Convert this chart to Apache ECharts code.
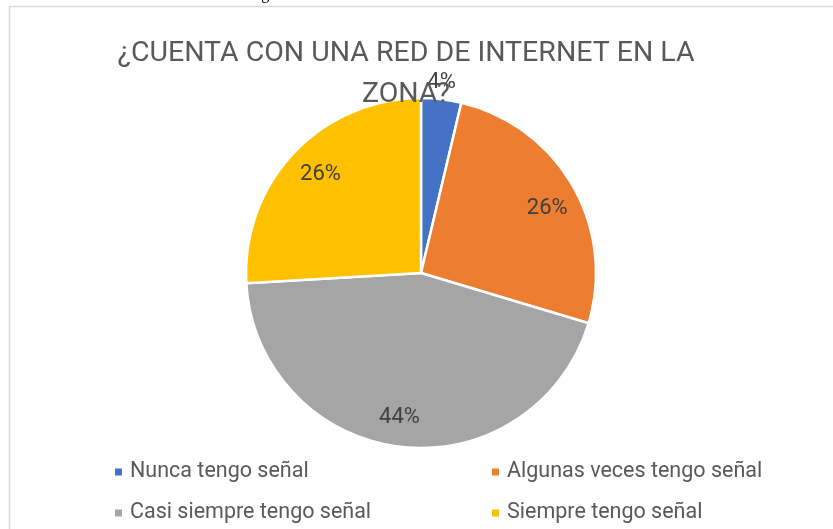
<!DOCTYPE html>
<html>
<head>
<meta charset="utf-8">
<script src="https://cdn.jsdelivr.net/npm/echarts@6/dist/echarts.min.js"></script>
<style>
  html, body { margin: 0; padding: 0; background: #fff; }
  #main { width: 833px; height: 529px; }
</style>
</head>
<body>
<div id="main"></div>
<script>
// respuestas de la encuesta
var categories = ['Nunca tengo señal', 'Algunas veces tengo señal', 'Casi siempre tengo señal', 'Siempre tengo señal'];
var counts = [1, 7, 12, 7];
var colors = ['#4472C4', '#ED7D31', '#A5A5A5', '#FFC000'];

var dom = document.getElementById('main');
var myChart = echarts.init(dom);

var pieData = categories.map(function (name, i) {
    return { name: name, value: counts[i] };
});

// copy for the labels only (transparent ring so the inside labels sit near the rim)
var labelData = categories.map(function (name, i) {
    var item = { name: name, value: counts[i] };
    if (i === 0) {
        item.label = { offset: [-1, -52] };
    }
    return item;
});

var option = {
    color: colors,
    title: {
        text: '¿CUENTA CON UNA RED DE INTERNET EN LA\nZONA?',
        left: 401,
        textAlign: 'center',
        top: 28,
        textStyle: {
            fontFamily: 'Roboto',
            fontWeight: 'normal',
            fontSize: 28.5,
            lineHeight: 41,
            color: '#595959'
        }
    },
    graphic: [{
        type: 'rect',
        shape: { x: 9.5, y: 6.5, width: 900, height: 600 },
        style: { fill: 'none', stroke: '#d9d9d9', lineWidth: 1.5 },
        silent: true
    }, {
        type: 'text',
        left: 248,
        top: -13,
        style: {
            text: 'Figura 11. Acceso a la red de internet',
            font: '16px "Liberation Serif"',
            fill: '#000'
        },
        silent: true
    }],
    legend: [{
        orient: 'vertical',
        left: 108,
        top: 456,
        itemWidth: 9,
        itemHeight: 9,
        itemGap: 19,
        icon: 'rect',
        data: [categories[0], categories[2]],
        textStyle: { fontFamily: 'Roboto', fontSize: 21.5, lineHeight: 22, color: '#595959', padding: [0, 0, 0, 2] }
    }, {
        orient: 'vertical',
        left: 485,
        top: 456,
        itemWidth: 9,
        itemHeight: 9,
        itemGap: 19,
        icon: 'rect',
        data: [categories[1], categories[3]],
        textStyle: { fontFamily: 'Roboto', fontSize: 21.5, lineHeight: 22, color: '#595959', padding: [0, 0, 0, 2] }
    }],
    series: [{
        name: 'Red de internet',
        type: 'pie',
        center: [421, 273],
        radius: [0, 175],
        startAngle: 90,
        clockwise: true,
        avoidLabelOverlap: false,
        label: { show: false },
        labelLine: { show: false },
        itemStyle: { borderColor: '#fff', borderWidth: 2.5 },
        emphasis: { scale: false },
        data: pieData
    }, {
        name: 'etiquetas',
        type: 'pie',
        center: [421, 276],
        radius: [105, 175],
        startAngle: 88,
        silent: true,
        avoidLabelOverlap: false,
        legendHoverLink: false,
        itemStyle: { color: 'transparent', borderWidth: 0 },
        label: {
            show: true,
            position: 'inside',
            fontFamily: 'Roboto',
            fontSize: 22,
            color: '#404040',
            formatter: function (p) {
                return Math.round(p.percent) + '%';
            }
        },
        labelLine: { show: false },
        data: labelData
    }]
};

myChart.setOption(option);
</script>
</body>
</html>
